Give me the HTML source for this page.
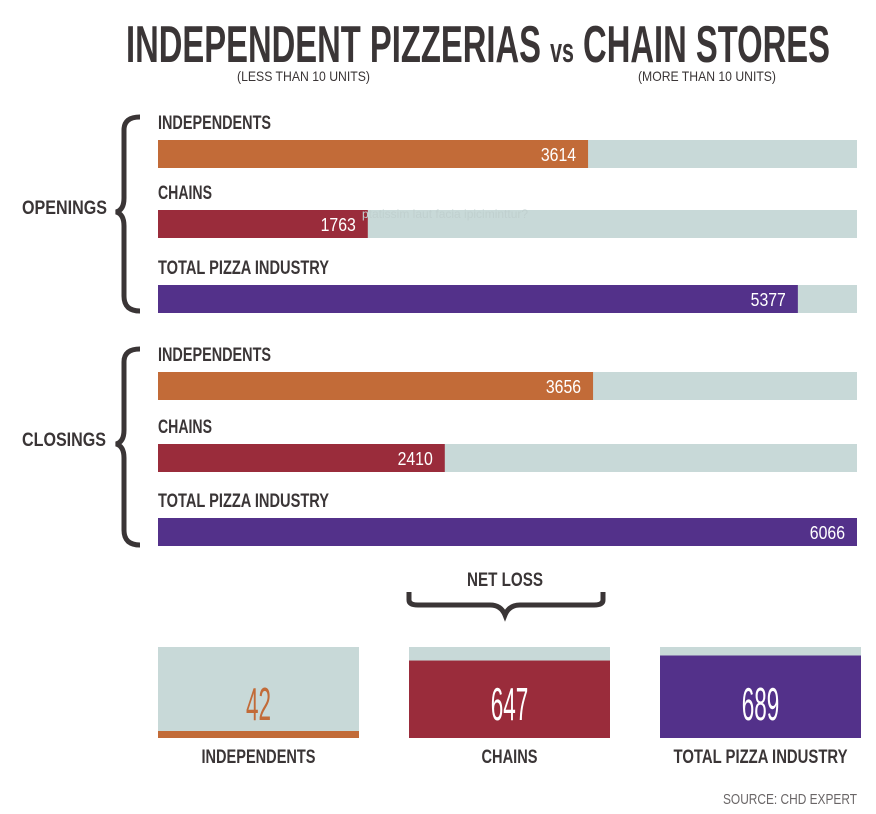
<!DOCTYPE html>
<html><head><meta charset="utf-8">
<style>
html,body{margin:0;padding:0;background:#fff;}
svg{display:block;font-family:"Liberation Sans Narrow","Liberation Sans",sans-serif;}
</style></head>
<body>
<svg id="chart" width="876" height="814" viewBox="0 0 876 814" xmlns="http://www.w3.org/2000/svg">
  <text x="126" y="62" font-size="52" font-weight="bold" fill="#3a3536" textLength="704" lengthAdjust="spacingAndGlyphs">INDEPENDENT PIZZERIAS <tspan font-size="34">vs</tspan> CHAIN STORES</text>
  <text x="237" y="81" font-size="14" fill="#3a3536" textLength="133" lengthAdjust="spacingAndGlyphs">(LESS THAN 10 UNITS)</text>
  <text x="638" y="81" font-size="14" fill="#3a3536" textLength="138" lengthAdjust="spacingAndGlyphs">(MORE THAN 10 UNITS)</text>

  <text x="22" y="214" font-size="19" font-weight="bold" fill="#3a3536" textLength="85" lengthAdjust="spacingAndGlyphs">OPENINGS</text>
  <text x="22" y="446" font-size="19" font-weight="bold" fill="#3a3536" textLength="84" lengthAdjust="spacingAndGlyphs">CLOSINGS</text>
  <path d="M140 117 Q124 117 124 130 L124 198 Q124 210 116 212 Q124 214 124 226 L124 296 Q124 311 140 311" fill="none" stroke="#3a3536" stroke-width="5"/>
  <path d="M140 349 Q124 349 124 362 L124 430 Q124 442 116 444 Q124 446 124 458 L124 530 Q124 545 140 545" fill="none" stroke="#3a3536" stroke-width="5"/>

  <g id="bars"></g>
  <text x="362" y="218" font-size="12" fill="#c0d0cf">ptatissim laut facia ipiciminttur?</text>

  <text x="505" y="586" font-size="19" font-weight="bold" fill="#3a3536" text-anchor="middle" textLength="76" lengthAdjust="spacingAndGlyphs">NET LOSS</text>
  <path d="M409 592 L409 600 Q409 605 418 605 L490 605 Q501 605 505 615 Q509 605 520 605 L594 605 Q603 605 603 600 L603 592" fill="none" stroke="#3a3536" stroke-width="5"/>
  <g id="boxes"></g>
  <text x="857" y="804" font-size="15" fill="#6a6667" text-anchor="end" textLength="134" lengthAdjust="spacingAndGlyphs">SOURCE: CHD EXPERT</text>
</svg>
<script>
const rowLabels = ["INDEPENDENTS","CHAINS","TOTAL PIZZA INDUSTRY","INDEPENDENTS","CHAINS","TOTAL PIZZA INDUSTRY"];
const rowValues = [3614,1763,5377,3656,2410,6066];
const netLabels = ["INDEPENDENTS","CHAINS","TOTAL PIZZA INDUSTRY"];
const netValues = [42,647,689];

const colors = ["#c26b38","#9a2c3b","#53318a"];
const NS = "http://www.w3.org/2000/svg";
const barX0 = 158, barW = 699, barMax = 5874;
const xScale = v => Math.min(barW, v / barMax * barW);
const barTops = [140,210,285,372,444,518];
const labelW = [113,54,171];
function mk(tag, attrs, parent){const e=document.createElementNS(NS,tag);for(const k in attrs)e.setAttribute(k,attrs[k]);parent.appendChild(e);return e;}
const g = document.getElementById("bars");
rowValues.forEach((v,i)=>{
  const y = barTops[i];
  const t = mk("text",{x:barX0,y:y-11,"font-size":19,"font-weight":"bold",fill:"#3a3536",textLength:labelW[i%3],lengthAdjust:"spacingAndGlyphs"},g);
  
  
  t.textContent = rowLabels[i];
  const bg = mk("rect",{x:barX0,y:y,width:barW,height:28,fill:"#c8d9d8"},g);
  
  
  const w = xScale(v);
  const r = mk("rect",{x:barX0,y:y,width:w,height:28,fill:colors[i%3]},g);
  
  
  const s = String(v);
  const vt = mk("text",{x:barX0+w-12,y:y+21,"font-size":18,fill:"#fff","text-anchor":"end",textLength:s.length*8.8,lengthAdjust:"spacingAndGlyphs"},gb0=g);
  
  
  vt.textContent = s;
});
const bx = [158,409,660], boxW = 201, boxTop = 647, boxH = 91, netMax = 760;
const yScale = v => v / netMax * boxH;
const gb = document.getElementById("boxes");
netValues.forEach((v,i)=>{
  const bg = mk("rect",{x:bx[i],y:boxTop,width:boxW,height:boxH,fill:"#c8d9d8"},gb);
  
  
  const h = Math.max(7, yScale(v));
  const r = mk("rect",{x:bx[i],y:boxTop+boxH-h,width:boxW,height:h,fill:colors[i]},gb);
  
  
  const s = String(v);
  const vt = mk("text",{x:bx[i]+boxW/2,y:720,"font-size":46,fill:i===0?colors[0]:"#fff","text-anchor":"middle",textLength:s.length*12.5,lengthAdjust:"spacingAndGlyphs"},gb);
  
  
  vt.textContent = s;
  const lt = mk("text",{x:bx[i]+boxW/2,y:763,"font-size":19,"font-weight":"bold",fill:"#3a3536","text-anchor":"middle",textLength:[114,56,174][i],lengthAdjust:"spacingAndGlyphs"},gb);
  
  
  lt.textContent = netLabels[i];
});
</script>
</body></html>
